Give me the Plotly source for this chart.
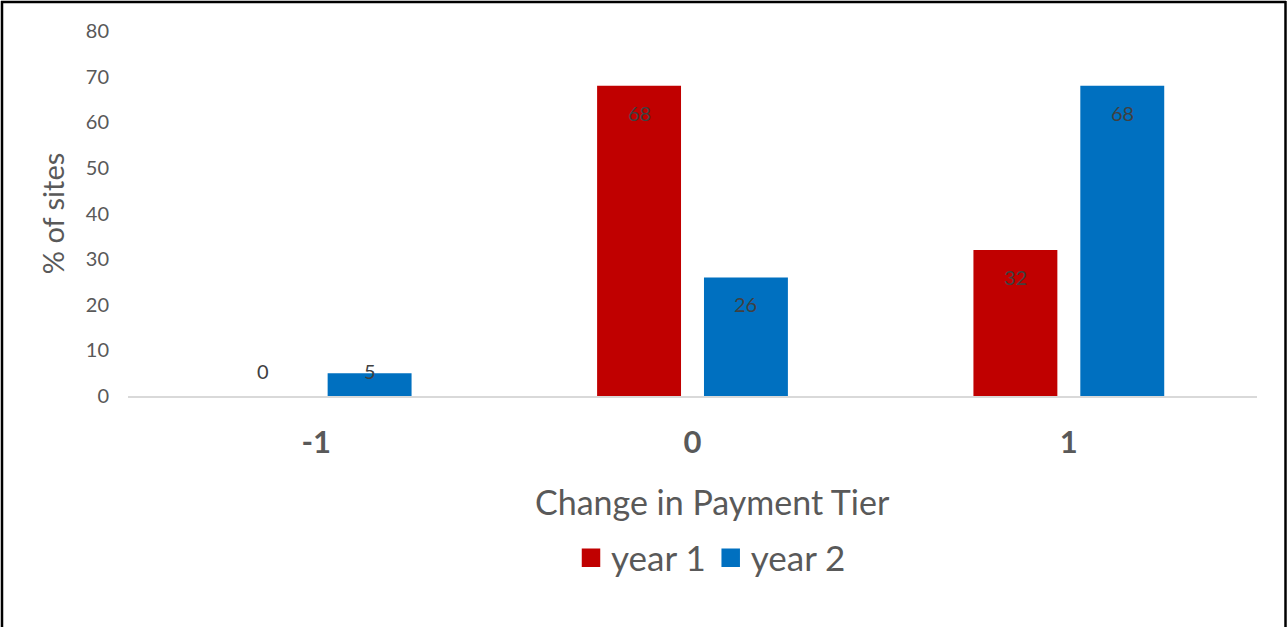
import plotly.graph_objects as go

# Data
categories = [-1, 0, 1]
category_labels = ["-1", "0", "1"]
year1 = [0, 68, 32]
year2 = [5, 26, 68]

RED = "#C00000"
BLUE = "#0070C0"
FONT = "Lato"

W, H = 1288, 627
ML, MR, MT, MB = 128, 31, 31, 231
plot_w = W - ML - MR
plot_h = H - MT - MB
y_max = 80
px_per_unit = plot_h / y_max

bar_w = 0.223
gap = 0.061
offsets = {"year 1": -bar_w - gap / 2, "year 2": gap / 2}


def px_x(p):
    return (p - ML) / plot_w


def px_y(p):
    return (H - MB - p) / plot_h


fig = go.Figure()
for name, vals, color in [("year 1", year1, RED), ("year 2", year2, BLUE)]:
    fig.add_trace(go.Bar(
        x=categories, y=vals, name=name,
        marker=dict(color=color, line=dict(width=0)),
        width=bar_w, offset=offsets[name],
        showlegend=False, hoverinfo="x+y",
    ))
    # legend swatch
    fig.add_trace(go.Scatter(
        x=[None], y=[None], mode="markers", name=name,
        marker=dict(symbol="square", size=20, color=color,
                    line=dict(color=color, width=2.5)),
    ))
    # value labels near the top of each bar
    for c, v in zip(categories, vals):
        y_lab = max(v - 27 / px_per_unit, 25 / px_per_unit)
        fig.add_annotation(
            x=c + offsets[name] + bar_w / 2, y=y_lab, text=str(v),
            showarrow=False, yanchor="middle", xanchor="center",
            font=dict(family=FONT, size=20, color="#404040"),
        )

# x-axis title
fig.add_annotation(
    xref="paper", yref="paper", x=px_x(712), y=px_y(502),
    text="Change in Payment Tier", showarrow=False,
    xanchor="center", yanchor="middle",
    font=dict(family=FONT, size=34, color="#595959"),
)

# outer frame (left, top, right)
frame = dict(type="line", xref="paper", yref="paper",
             line=dict(color="#000000", width=2.5), layer="above")
fig.add_shape(x0=px_x(2), x1=px_x(2), y0=px_y(1), y1=px_y(H + 2), **frame)
fig.add_shape(x0=px_x(1), x1=px_x(1286), y0=px_y(2), y1=px_y(2), **frame)
fig.add_shape(x0=px_x(1285.5), x1=px_x(1285.5), y0=px_y(1), y1=px_y(H + 2), **frame)

fig.update_layout(
    width=W, height=H,
    margin=dict(l=ML, r=MR, t=MT, b=MB, pad=0),
    paper_bgcolor="white", plot_bgcolor="white",
    font=dict(family=FONT, color="#595959"),
    barmode="overlay",
    showlegend=True,
    legend=dict(
        orientation="h", x=px_x(711), xanchor="center", y=px_y(558), yanchor="middle",
        font=dict(family=FONT, size=35, color="#595959"),
        itemsizing="trace", itemwidth=30, tracegroupgap=0,
    ),
    xaxis=dict(
        range=[-1.5, 1.5], tickmode="array", tickvals=categories,
        ticktext=category_labels, showgrid=False, zeroline=False,
        showline=True, linecolor="#D9D9D9", linewidth=2, ticks="",
        tickfont=dict(family=FONT, size=31, color="#595959", weight="bold"),
        ticklabelstandoff=18,
        fixedrange=True,
    ),
    yaxis=dict(
        range=[0, y_max], dtick=10, showgrid=False, zeroline=False,
        showline=False, ticks="",
        tickfont=dict(family=FONT, size=20, color="#595959"),
        ticklabelstandoff=18,
        title=dict(text="% of sites", standoff=12,
                   font=dict(family=FONT, size=29, color="#595959")),
        fixedrange=True,
    ),
)

fig.write_html("out.html")
